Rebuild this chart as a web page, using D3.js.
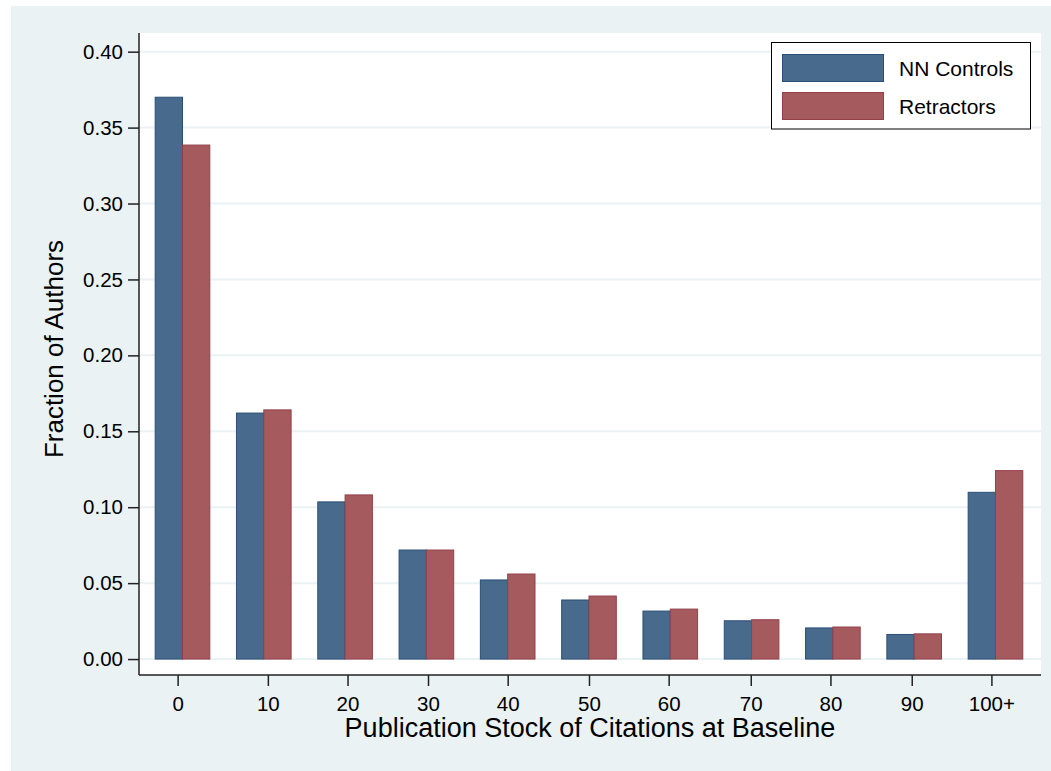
<!DOCTYPE html>
<html>
<head>
<meta charset="utf-8">
<script src="https://cdn.jsdelivr.net/npm/d3@7"></script>
<style>
  html, body { margin: 0; padding: 0; background: #fff; }
  svg { display: block; font-family: "Liberation Sans", Arial, sans-serif; }
</style>
</head>
<body>
<svg id="chart"></svg>
<script>
// bins of citation stock at baseline
var bins = ["0", "10", "20", "30", "40", "50", "60", "70", "80", "90", "100+"];
// where each tick label sits, in bin-index units (stata puts them a bit off-centre)
var tickAt = [-0.06, 1.05, 2.03, 3.02, 4.0, 5.0, 5.98, 6.99, 7.97, 8.97, 9.95];
var controls = [0.370, 0.162, 0.1035, 0.0718, 0.0521, 0.0389, 0.0316, 0.0252, 0.0205, 0.0162, 0.1098];
var retractors = [0.3385, 0.1641, 0.1081, 0.0718, 0.0560, 0.0415, 0.0329, 0.0259, 0.0211, 0.0166, 0.1241];
var yTicks = [0, 0.05, 0.10, 0.15, 0.20, 0.25, 0.30, 0.35, 0.40];
var seriesNames = ["NN Controls", "Retractors"];

width = 1051
height = 771

var fill = ["#486a8c", "#a55b5e"];
var stroke = ["#2a4f76", "#93404a"];

var svg = d3.select("#chart").attr("width", width).attr("height", height);

// stata s2color background
svg.append("rect")
    .attr("x", 11).attr("y", 6)
    .attr("width", width - 11).attr("height", height - 6)
    .attr("fill", "#eaf2f3");

var plot = {left: 139, right: 1041, top: 33, bottom: 675};

svg.append("rect")
    .attr("x", plot.left).attr("y", plot.top)
    .attr("width", plot.right - plot.left).attr("height", plot.bottom - plot.top)
    .attr("fill", "#fff");

var x = d3.scaleLinear().domain([-0.535, 10.56]).range([plot.left, plot.right]);
var y = d3.scaleLinear().domain([-0.0105, 0.4123]).range([plot.bottom, plot.top]);
var bw = 0.336;

// gridlines
svg.append("g")
  .selectAll("line")
  .data(yTicks)
  .join("line")
    .attr("x1", plot.left).attr("x2", plot.right)
    .attr("y1", function (d) { return y(d) })
    .attr("y2", function (d) { return y(d) })
    .attr("stroke", "#eaf2f3")
    .attr("stroke-width", 2);

// bars
var series = [controls, retractors];
series.forEach(function (vals, s) {
  svg.append("g")
    .selectAll("rect")
    .data(vals)
    .join("rect")
      .attr("x", function (d, i) { return x(i - bw + s * bw) })
      .attr("width", function (d, i) { return x(i + bw) - x(i) })
      .attr("y", function (d) { return y(d) })
      .attr("height", function (d) { return y(0) - y(d) })
      .attr("fill", fill[s])
      .attr("stroke", stroke[s])
      .attr("stroke-width", 1);
});

// y axis
var yAxis = svg.append("g")
    .attr("transform", "translate(" + plot.left + ",0)")
    .call(d3.axisLeft(y).tickValues(yTicks).tickFormat(d3.format(".2f")).tickSize(11).tickPadding(5));
yAxis.select(".domain").attr("d", "M0," + plot.top + "V" + plot.bottom);

// x axis
var xAxis = svg.append("g")
    .attr("transform", "translate(0," + plot.bottom + ")")
    .call(d3.axisBottom(x).tickValues(tickAt)
      .tickFormat(function (d, i) { return bins[i] }).tickSize(11).tickPadding(10));
xAxis.select(".domain").attr("d", "M" + plot.left + ",0H" + plot.right);

svg.selectAll(".tick text").attr("font-size", 20.5).attr("fill", "#000").attr("font-family", null);
svg.selectAll(".tick line").attr("stroke", "#222").attr("stroke-width", 1.5);
svg.selectAll(".domain").attr("stroke", "#222").attr("stroke-width", 1.5);
xAxis.selectAll(".tick text").attr("dy", "0.71em");

// titles
svg.append("text")
    .attr("x", (plot.left + plot.right) / 2)
    .attr("y", 737)
    .attr("text-anchor", "middle")
    .attr("font-size", 27)
    .text("Publication Stock of Citations at Baseline");

svg.append("text")
    .attr("transform", "translate(63,349) rotate(-90)")
    .attr("text-anchor", "middle")
    .attr("font-size", 26)
    .text("Fraction of Authors");

// legend
var legend = svg.append("g");
legend.append("rect")
    .attr("x", 771.5).attr("y", 42.5)
    .attr("width", 259).attr("height", 86.5)
    .attr("fill", "#fff")
    .attr("stroke", "#000")
    .attr("stroke-width", 1);

var item = legend.selectAll("g.item")
  .data(seriesNames)
  .join("g")
    .attr("class", "item")
    .attr("transform", function (d, i) { return "translate(0," + (i * 38) + ")" });

item.append("rect")
    .attr("x", 782.5).attr("y", 54.5)
    .attr("width", 101).attr("height", 27)
    .attr("fill", function (d, i) { return fill[i] })
    .attr("stroke", function (d, i) { return stroke[i] });

item.append("text")
    .attr("x", 899)
    .attr("y", 75.5)
    .attr("font-size", 21)
    .text(function (d) { return d });
</script>
</body>
</html>
